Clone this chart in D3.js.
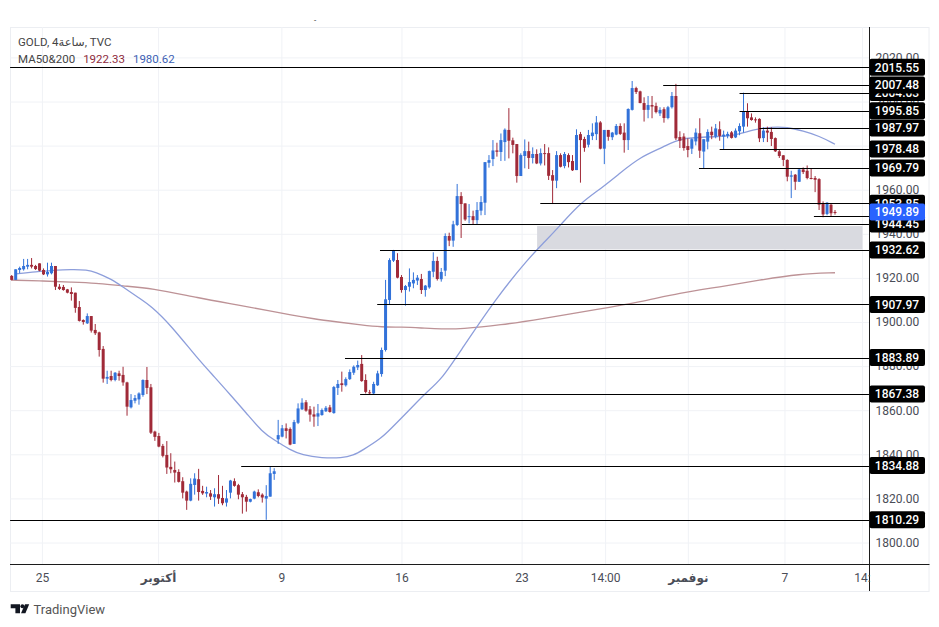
<!DOCTYPE html>
<html>
<head>
<meta charset="utf-8">
<script src="https://cdn.jsdelivr.net/npm/d3@7"></script>
<style>
  body { margin: 0; background: #fff; }
  text { font-family: Roboto, "DejaVu Sans", sans-serif; }
</style>
</head>
<body>
<div id="chart"></div>
<script>
// 4h candles
var opens = [
  1920.9,1919.1,1923.6,1923.9,1925.1,1925.9,1925.4,1926.6,1923.6,1921.6,
  1922.1,1925.4,1916.0,1915.9,1914.8,1913.6,1913.3,1906.8,1900.9,1899.4,
  1902.7,1896.4,1895.3,1887.8,1874.3,1875.5,1873.7,1876.7,1876.0,1872.6,
  1861.3,1864.3,1864.9,1866.9,1873.7,1870.4,1850.3,1848.3,1843.8,1839.7,
  1834.3,1832.9,1832.0,1827.8,1823.1,1819.0,1826.1,1828.7,1823.4,1822.2,
  1822.3,1820.5,1821.9,1820.2,1818.1,1822.6,1827.8,1826.0,1821.9,1820.7,
  1818.5,1819.9,1822.8,1821.7,1819.9,1820.8,1831.1,1846.8,1848.0,1851.8,
  1851.5,1844.7,1854.3,1860.4,1863.6,1860.4,1858.1,1857.1,1857.8,1859.5,
  1861.3,1858.7,1870.1,1872.2,1871.3,1874.1,1877.0,1879.4,1881.0,1873.7,
  1868.1,1867.6,1871.3,1876.4,1887.3,1910.0,1927.8,1928.1,1920.4,1914.5,
  1916.0,1917.5,1918.8,1919.5,1914.5,1915.7,1922.8,1927.7,1919.4,1923.3,
  1939.0,1936.9,1944.0,1957.1,1953.8,1947.6,1948.0,1946.2,1950.5,1954.1,
  1972.2,1973.9,1977.8,1977.1,1981.6,1987.1,1982.4,1980.7,1966.2,1975.3,
  1977.5,1974.4,1976.2,1971.9,1976.6,1976.6,1966.6,1964.1,1975.7,1970.7,
  1975.7,1973.0,1968.9,1985.2,1983.0,1980.4,1984.3,1985.2,1990.5,1978.6,
  1987.1,1983.8,1985.0,1988.9,1985.9,1982.5,1996.2,2006.1,2004.6,1999.3,
  1996.2,1998.4,1998.0,1994.6,1996.5,1992.5,1997.4,2002.5,1983.9,1984.1,
  1979.8,1978.6,1981.9,1985.6,1977.3,1981.8,1986.3,1984.1,1987.4,1984.1,
  1984.4,1986.0,1983.7,1986.5,1988.6,1995.4,1992.8,1991.9,1992.1,1983.4,
  1986.8,1986.2,1983.4,1977.4,1975.6,1973.5,1965.9,1966.8,1963.6,1969.2,
  1968.6,1965.3,1965.3,1964.8,1953.8,1949.0,1953.2,1949.9
];
var highs = [
  1921.3,1923.9,1925.1,1928.6,1928.6,1929.0,1925.9,1926.6,1924.3,1926.9,
  1926.9,1925.4,1917.2,1916.8,1915.0,1915.7,1913.3,1909.5,1901.2,1903.9,
  1902.7,1899.1,1895.6,1889.1,1877.9,1877.9,1877.3,1877.9,1879.7,1872.9,
  1867.3,1866.9,1868.1,1874.0,1879.6,1871.9,1850.7,1849.7,1844.7,1846.0,
  1840.5,1836.7,1833.2,1829.6,1823.5,1829.1,1831.4,1833.4,1825.7,1825.3,
  1823.8,1824.6,1830.6,1825.7,1823.8,1828.4,1829.1,1826.6,1822.9,1821.6,
  1819.9,1823.5,1824.1,1822.3,1826.0,1834.4,1833.7,1855.6,1853.3,1854.0,
  1852.2,1855.6,1863.1,1865.4,1864.6,1861.9,1861.6,1862.8,1860.8,1861.9,
  1862.4,1871.0,1873.7,1877.5,1874.9,1878.5,1880.3,1882.5,1885.0,1876.3,
  1869.2,1872.9,1877.9,1888.4,1919.1,1928.9,1932.7,1931.2,1921.3,1916.8,
  1924.3,1922.5,1921.3,1921.8,1916.8,1923.3,1931.6,1929.6,1924.5,1940.2,
  1940.5,1945.9,1962.6,1958.9,1953.8,1953.5,1950.5,1954.4,1957.1,1972.5,
  1975.7,1982.5,1981.3,1985.5,1987.8,1997.0,1983.6,1980.7,1976.5,1982.8,
  1981.8,1979.2,1978.3,1978.7,1980.7,1979.2,1968.9,1977.5,1976.5,1977.1,
  1976.5,1975.7,1987.4,1986.2,1984.0,1987.1,1990.1,1993.4,1991.1,1987.1,
  1987.1,1986.2,1989.8,1990.1,1990.1,1996.9,2009.3,2006.7,2004.9,2001.9,
  2002.5,2002.5,1999.5,1997.4,1997.4,1998.0,2004.3,2008.0,1986.5,1985.6,
  1983.3,1983.3,1987.8,1992.4,1982.9,1987.4,1988.6,1989.8,1991.0,1986.8,
  1986.3,1986.6,1987.8,1990.1,2004.0,1999.2,1994.6,1992.8,1992.4,1988.3,
  1988.6,1988.3,1983.7,1978.3,1975.7,1973.8,1968.6,1967.1,1969.7,1970.1,
  1971.0,1969.7,1966.2,1965.2,1954.7,1954.4,1953.5,1950.8
];
var lows = [
  1918.8,1919.1,1922.1,1923.3,1923.9,1924.3,1923.6,1923.0,1921.3,1920.6,
  1921.6,1914.5,1914.5,1914.2,1913.0,1909.7,1904.2,1900.2,1898.8,1899.1,
  1895.2,1894.1,1884.3,1872.5,1871.9,1873.1,1873.1,1873.4,1871.1,1857.5,
  1860.8,1863.1,1862.5,1866.1,1867.3,1849.2,1846.1,1843.2,1838.6,1831.1,
  1831.4,1827.2,1827.2,1820.0,1814.8,1818.7,1821.7,1819.0,1821.6,1820.5,
  1819.3,1816.3,1817.5,1816.9,1816.3,1820.0,1825.3,1819.6,1813.1,1814.0,
  1818.2,1819.6,1820.5,1818.1,1810.3,1820.8,1828.4,1844.7,1847.7,1847.2,
  1844.1,1844.7,1853.7,1860.1,1859.3,1854.8,1852.5,1852.8,1857.5,1859.2,
  1858.9,1858.4,1866.9,1868.4,1870.7,1873.7,1876.0,1878.2,1872.9,1867.6,
  1866.9,1867.3,1871.0,1875.2,1886.6,1907.7,1927.2,1919.8,1913.3,1907.4,
  1913.8,1915.3,1916.8,1912.7,1911.5,1915.1,1920.3,1918.8,1918.3,1920.8,
  1934.4,1934.1,1943.5,1938.1,1945.9,1944.7,1944.1,1944.4,1948.4,1948.5,
  1970.0,1970.7,1975.0,1973.0,1973.1,1974.2,1976.5,1963.2,1966.2,1969.7,
  1969.4,1971.9,1971.6,1971.0,1971.0,1964.4,1953.5,1960.7,1970.1,1969.7,
  1970.1,1968.5,1968.9,1963.2,1977.2,1979.2,1982.5,1982.5,1978.3,1971.6,
  1982.2,1982.5,1984.7,1984.8,1976.8,1978.0,1995.9,2003.4,1999.2,1990.9,
  1992.4,1992.4,1994.6,1993.4,1990.4,1991.9,1996.8,1982.5,1978.9,1977.7,
  1974.7,1976.2,1980.1,1974.4,1969.7,1978.3,1982.9,1983.3,1982.2,1978.3,
  1983.3,1983.2,1983.4,1984.7,1985.9,1988.6,1991.3,1990.4,1981.6,1981.6,
  1981.6,1979.8,1977.1,1974.4,1970.7,1963.8,1956.2,1959.9,1963.5,1967.1,
  1964.7,1964.7,1958.9,1950.8,1947.5,1948.4,1948.1,1948.7
];
var closes = [
  1919.1,1923.9,1924.5,1925.4,1925.9,1925.1,1924.0,1923.3,1921.6,1922.7,
  1925.4,1916.0,1915.0,1914.5,1913.3,1912.7,1906.4,1900.5,1900.0,1902.7,
  1896.1,1894.9,1887.3,1874.3,1875.1,1873.7,1877.0,1875.5,1872.6,1861.6,
  1864.6,1865.5,1867.6,1873.7,1870.1,1849.8,1847.9,1843.5,1839.3,1834.0,
  1833.2,1831.7,1827.5,1822.6,1819.0,1826.6,1829.0,1822.9,1822.3,1822.9,
  1820.8,1821.9,1819.9,1817.8,1820.0,1828.1,1825.7,1821.7,1820.5,1818.5,
  1819.7,1823.1,1821.1,1820.4,1821.1,1831.4,1832.3,1848.7,1851.8,1850.6,
  1844.4,1854.6,1860.8,1863.4,1859.8,1858.0,1857.1,1858.6,1860.1,1861.1,
  1859.2,1870.5,1871.9,1871.4,1874.1,1877.3,1879.7,1880.5,1873.2,1868.3,
  1867.8,1871.9,1876.7,1887.3,1910.3,1928.1,1932.4,1920.1,1914.5,1916.3,
  1918.1,1919.1,1920.1,1914.5,1916.5,1923.1,1927.7,1919.5,1922.7,1939.0,
  1936.9,1944.3,1957.1,1953.5,1946.5,1948.0,1946.2,1950.8,1954.4,1972.5,
  1973.4,1977.8,1977.2,1982.5,1987.2,1982.2,1980.3,1966.2,1975.7,1977.5,
  1974.4,1976.2,1971.9,1976.6,1976.2,1966.3,1964.1,1975.7,1970.4,1976.2,
  1972.5,1968.8,1984.8,1982.5,1979.0,1984.8,1985.9,1990.5,1978.6,1987.1,
  1984.0,1985.9,1988.9,1985.3,1982.5,1996.6,2006.1,2004.3,1999.3,1996.2,
  1998.4,1997.7,1995.2,1996.2,1992.5,1997.4,2002.5,1983.3,1982.2,1978.9,
  1978.0,1982.9,1985.9,1977.7,1982.9,1986.2,1984.7,1987.8,1984.4,1985.0,
  1985.3,1983.5,1986.8,1988.9,1995.4,1992.4,1991.6,1991.6,1983.3,1986.8,
  1985.9,1983.0,1977.4,1975.3,1973.5,1965.9,1966.5,1963.6,1969.2,1968.0,
  1965.3,1965.0,1964.5,1953.2,1948.8,1954.1,1949.3,1949.6
];

// moving averages, read at these candle indexes
var ma50Index = [1,5,10,15,19,21,25,28,32,35,40,47,51,55,59,63,66,70,73,78,83,86,88,93,95,100,104,108,113,122,130,134,138,143,148,153,158,164,168,175,181,183,187,191,195,199,203,207];
var ma50Values = [1921.8,1922.7,1923.3,1923.9,1923.6,1922.7,1919.5,1915.9,1910.9,1907.3,1898.6,1882.8,1875.1,1866.9,1858.7,1850.1,1846.5,1842.0,1839.7,1838.3,1838.3,1839.6,1841.6,1847.4,1851.0,1860.1,1867.8,1873.7,1887.3,1911.3,1929.0,1936.3,1944.0,1954.0,1960.3,1967.6,1974.8,1979.4,1983.4,1983.9,1984.4,1985.3,1987.5,1988.4,1988.4,1986.6,1984.4,1980.62];
var ma200Index = [0,8,15,21,28,35,47,57,65,70,76,82,88,93,98,103,108,113,123,133,148,158,168,178,188,198,207];
var ma200Values = [1919.0,1918.6,1918.1,1917.7,1916.3,1915.4,1910.9,1907.7,1905.0,1903.2,1901.4,1900.0,1898.6,1897.7,1897.7,1897.3,1896.8,1896.8,1898.6,1901.4,1905.9,1909.1,1913.2,1915.9,1919.0,1921.8,1922.33];

// drawn levels, first index is where the line starts
var levelValues = [2015.55,2004.03,2007.48,1995.85,1987.97,1978.48,1969.79,1953.85,1948.10,1944.45,1932.62,1907.97,1883.89,1867.38,1834.88,1810.29];
var levelStarts = [-0.4,183,163.8,183,188,178,172.8,132.9,201.7,113.2,92.6,91.9,83.8,87.6,57.7,-0.4];
var levelLabels = ['2015.55','2004.03','2007.48','1995.85','1987.97','1978.48','1969.79','1953.85','','1944.45','1932.62','1907.97','1883.89','1867.38','1834.88','1810.29'];

var zoneIndex = [132.1,213.9];
var zonePrice = [1943.5,1932.9];

var yTicks = [1800,1820,1840,1860,1880,1900,1920,1940,1960,1980,2000,2020];
var xTicks = [7.6,36.8,67.8,98,128.2,149.2,170,194.3,213.8];
var xTickLabels = ['25','أكتوبر','9','16','23','14:00','نوفمبر','7','14:'];
var xTickBold = ['أكتوبر','نوفمبر'];

var lastPrice = 1949.89;

var width = 939, height = 627,
  plotLeft = 10, plotRight = 928.5, plotTop = 27, plotBottom = 591,
  axisX = 869.5, axisY = 564.5;

var x = d3.scaleLinear().domain([0, 207]).range([11.7, 835]);
var y = d3.scaleLinear().domain([1800, 2020]).range([542.5, 57.4]);

var candleColor = { up: '#3272d9', down: '#a02a38' };

var svg = d3.select('#chart').append('svg')
  .attr('width', width)
  .attr('height', height)
  .style('display', 'block');

// frame
svg.append('rect')
  .attr('x', plotLeft + 0.5)
  .attr('y', plotTop + 0.5)
  .attr('width', plotRight - plotLeft)
  .attr('height', plotBottom - plotTop)
  .style('fill', '#fff')
  .style('stroke', '#eceef2');

// grid, built from the axes
var gridY = svg.append('g')
  .attr('transform', 'translate(' + axisX + ',0)')
  .call(d3.axisLeft(y).tickValues(yTicks).tickSize(axisX - plotLeft).tickFormat(''));
var gridX = svg.append('g')
  .attr('transform', 'translate(0,' + axisY + ')')
  .call(d3.axisTop(x).tickValues(xTicks).tickSize(axisY - plotTop).tickFormat(''));
svg.selectAll('g .domain').remove();
gridY.selectAll('line').style('stroke', '#f0f2f6');
gridX.selectAll('line').style('stroke', '#f0f2f6');

// grey zone
svg.append('rect')
  .attr('x', x(zoneIndex[0]))
  .attr('y', y(zonePrice[0]))
  .attr('width', x(zoneIndex[1]) - x(zoneIndex[0]))
  .attr('height', y(zonePrice[1]) - y(zonePrice[0]))
  .style('fill', '#d9dae0');

// moving averages
var maLine = d3.line().curve(d3.curveBasis);
svg.append('path')
  .attr('d', maLine(ma200Index.map(function(d, i) { return [x(d), y(ma200Values[i])]; })))
  .style('fill', 'none')
  .style('stroke', '#bd9296')
  .style('stroke-width', 1.3);
svg.append('path')
  .attr('d', maLine(ma50Index.map(function(d, i) { return [x(d), y(ma50Values[i])]; })))
  .style('fill', 'none')
  .style('stroke', '#8d9edb')
  .style('stroke-width', 1.3);

// candles
var candles = svg.append('g').selectAll('g')
  .data(opens.map(function(d, i) { return i; }))
  .enter().append('g');

candles.append('line')
  .attr('x1', function(i) { return x(i); })
  .attr('x2', function(i) { return x(i); })
  .attr('y1', function(i) { return y(highs[i]); })
  .attr('y2', function(i) { return y(lows[i]); })
  .style('stroke', function(i) { return closes[i] >= opens[i] ? candleColor.up : candleColor.down; })
  .style('stroke-width', 1);

candles.append('rect')
  .attr('x', function(i) { return x(i) - 1.5; })
  .attr('y', function(i) { return y(Math.max(opens[i], closes[i])); })
  .attr('width', 3)
  .attr('height', function(i) { return Math.max(1, Math.abs(y(opens[i]) - y(closes[i]))); })
  .style('fill', function(i) { return closes[i] >= opens[i] ? candleColor.up : candleColor.down; });

// level lines
svg.append('g').selectAll('line')
  .data(levelValues)
  .enter().append('line')
  .attr('x1', function(d, i) { return x(levelStarts[i]); })
  .attr('x2', axisX)
  .attr('y1', function(d) { return Math.round(y(d)) + 0.5; })
  .attr('y2', function(d) { return Math.round(y(d)) + 0.5; })
  .style('stroke', '#000')
  .style('stroke-width', 1);

// axis lines
svg.append('line')
  .attr('x1', axisX).attr('x2', axisX)
  .attr('y1', plotTop).attr('y2', plotBottom)
  .style('stroke', '#1c1c1c');
svg.append('line')
  .attr('x1', plotLeft).attr('x2', plotRight + 1)
  .attr('y1', axisY).attr('y2', axisY)
  .style('stroke', '#1c1c1c');

// price axis
var yAxis = svg.append('g')
  .attr('transform', 'translate(' + (axisX + 6) + ',0)')
  .call(d3.axisRight(y).tickValues(yTicks).tickSize(0).tickPadding(0).tickFormat(d3.format('.2f')));
yAxis.select('.domain').remove();
yAxis.selectAll('text')
  .style('font-size', '12px')
  .style('fill', '#4a4d57');

// time axis
var xAxis = svg.append('g')
  .attr('transform', 'translate(0,' + (axisY + 9) + ')')
  .call(d3.axisBottom(x).tickValues(xTicks).tickSize(0).tickPadding(0)
    .tickFormat(function(d, i) { return xTickLabels[i]; }));
xAxis.select('.domain').remove();
xAxis.selectAll('text')
  .style('font-size', '12px')
  .style('fill', '#4a4d57')
  .style('font-weight', function(d, i) { return xTickBold.indexOf(xTickLabels[i]) >= 0 ? 'bold' : 'normal'; });

// price labels
function priceLabel(value, label, color) {
  var cy = y(value);
  var g = svg.append('g');
  g.append('rect')
    .attr('x', axisX)
    .attr('y', cy - 8.5)
    .attr('width', 55.5)
    .attr('height', 17)
    .attr('rx', 2)
    .style('fill', color);
  g.append('text')
    .attr('x', axisX + 27.5)
    .attr('y', cy + 4.3)
    .style('text-anchor', 'middle')
    .style('font-size', '12px')
    .style('font-weight', 500)
    .style('fill', '#fff')
    .text(label);
}

levelValues.forEach(function(d, i) {
  if (levelLabels[i]) priceLabel(d, levelLabels[i], '#000');
});
priceLabel(lastPrice, d3.format('.2f')(lastPrice), '#2962ff');

// legend
svg.append('text')
  .attr('x', 18)
  .attr('y', 46)
  .style('font-size', '11.5px')
  .style('fill', '#444')
  .text('GOLD, 4ساعة, TVC');

var legend = svg.append('text')
  .attr('x', 18)
  .attr('y', 63)
  .style('font-size', '11.5px')
  .style('fill', '#444');
legend.append('tspan').text('MA50&200');
legend.append('tspan').attr('dx', 8).style('fill', '#8f2b3c').text(ma200Values[ma200Values.length - 1]);
legend.append('tspan').attr('dx', 8).style('fill', '#3c5fb4').text(ma50Values[ma50Values.length - 1]);

// stray mark at the top of the picture
svg.append('text')
  .attr('x', 314)
  .attr('y', 23)
  .style('font-size', '8px')
  .style('fill', '#222')
  .text('-');

// footer logo
var logo = svg.append('g').style('fill', '#131722');
logo.append('path').attr('d', 'M10.7 604.3H20V613.3H15.4V608.3H10.7Z');
logo.append('circle').attr('cx', 22.4).attr('cy', 606.3).attr('r', 2);
logo.append('path').attr('d', 'M25 604.3H29.2L25.4 613.3H21Z');
svg.append('text')
  .attr('x', 33.5)
  .attr('y', 614)
  .style('font-size', '13px')
  .style('fill', '#555')
  .text('TradingView');
</script>
</body>
</html>
